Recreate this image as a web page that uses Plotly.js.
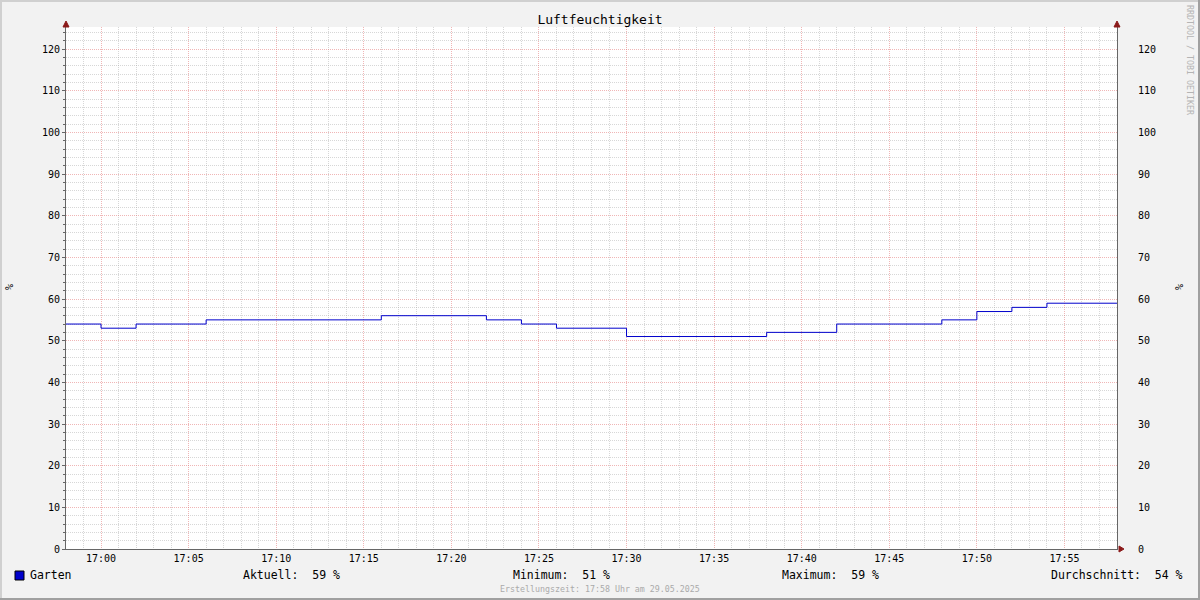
<!DOCTYPE html>
<html>
<head>
<meta charset="utf-8">
<script src="https://cdn.plot.ly/plotly-3.0.1.min.js"></script>
<style>html,body{margin:0;padding:0;background:#f2f2f2;}#chart{width:1200px;height:600px;}</style>
</head>
<body>
<div id="chart"></div>
<script>
// ---- data (change points of a step series) ----
const times = [
  '2025-05-29 16:58:00', '2025-05-29 17:00:00', '2025-05-29 17:02:00', '2025-05-29 17:06:00',
  '2025-05-29 17:16:00', '2025-05-29 17:22:00', '2025-05-29 17:24:00', '2025-05-29 17:26:00',
  '2025-05-29 17:30:00', '2025-05-29 17:38:00', '2025-05-29 17:42:00', '2025-05-29 17:48:00',
  '2025-05-29 17:50:00', '2025-05-29 17:52:00', '2025-05-29 17:54:00', '2025-05-29 17:58:00'
];
const humidity = [54, 53, 54, 55, 56, 55, 54, 53, 51, 52, 54, 55, 57, 58, 59, 59];
const seriesName = 'Garten';
const statLabels = ['Aktuell:', 'Minimum:', 'Maximum:', 'Durchschnitt:'];
const statValues = [59, 51, 59, 54];
const unit = '%';
const chartTitle = 'Luftfeuchtigkeit';
const footerText = 'Erstellungszeit: 17:58 Uhr am 29.05.2025';
const watermark = 'RRDTOOL / TOBI OETIKER';

// ---- geometry ----
const W = 1200, H = 600;
const L = 66, R = 1117, T = 27, B = 549;
const px = x => (x - L) / (R - L);
const py = y => (B - y) / (B - T);
const mono = 'DejaVu Sans Mono, monospace';
const NB = '\u00a0';

const yRange = [0, 125.3];
const xRange = ['2025-05-29 16:58:00', '2025-05-29 17:58:00'];

const lineColor = '#0000CC';
const axisColor = '#666666';
const arrowColor = '#8B1A1A';
const majorGrid = 'rgba(225,110,110,0.5)';
const minorGrid = 'rgba(160,160,160,0.42)';
const dotDash = '1px,1px';

const traces = [
  {x: times, y: humidity, type: 'scatter', mode: 'lines', line: {shape: 'hv', color: lineColor, width: 1},
   name: seriesName, showlegend: false, hoverinfo: 'skip'},
  {x: times, y: humidity, type: 'scatter', mode: 'lines', yaxis: 'y2', line: {width: 0}, opacity: 0,
   showlegend: false, hoverinfo: 'skip'}
];

const annotations = [];
function txt(text, x, y, opts) {
  annotations.push(Object.assign({text: text, xref: 'paper', yref: 'paper', x: px(x), y: py(y),
    showarrow: false, xanchor: 'left', yanchor: 'middle', borderpad: 0, borderwidth: 0,
    font: {family: mono, size: 11.5, color: '#000'}}, opts || {}));
}
// unit labels (rotated)
txt(unit, 9, 287, {xanchor: 'center', textangle: -90, font: {family: mono, size: 10, color: '#000'}});
txt(unit, 1179, 287, {xanchor: 'center', textangle: -90, font: {family: mono, size: 10, color: '#000'}});
// watermark
txt(watermark, 1190, 60, {xanchor: 'center', textangle: 90, font: {family: mono, size: 8.3, color: '#b4b4b4'}});
// legend line
txt(seriesName, 30, 575);
const statX = [243, 513, 782, 1051];
statLabels.forEach((lab, i) => txt(lab + NB + NB + statValues[i] + NB + unit, statX[i], 575));
// footer
txt(footerText, 600, 589, {xanchor: 'center', font: {family: mono, size: 8.3, color: '#aaaaaa'}});

const shapes = [
  // frame
  {type: 'rect', xref: 'paper', yref: 'paper', x0: px(0), x1: px(W), y0: py(0), y1: py(2), fillcolor: '#d0d0d0', line: {width: 0}},
  {type: 'rect', xref: 'paper', yref: 'paper', x0: px(0), x1: px(2), y0: py(0), y1: py(H), fillcolor: '#d0d0d0', line: {width: 0}},
  {type: 'rect', xref: 'paper', yref: 'paper', x0: px(0), x1: px(W), y0: py(H - 2), y1: py(H), fillcolor: '#a0a0a0', line: {width: 0}},
  {type: 'rect', xref: 'paper', yref: 'paper', x0: px(W - 2), x1: px(W), y0: py(0), y1: py(H), fillcolor: '#a0a0a0', line: {width: 0}},
  // legend swatch
  {type: 'rect', xref: 'paper', yref: 'paper', x0: px(15), x1: px(24), y0: py(571), y1: py(580), fillcolor: lineColor, line: {color: '#000', width: 1}},
];
function tri(p) {
  shapes.push({type: 'path', xref: 'paper', yref: 'paper',
    path: 'M' + p.map(q => px(q[0]) + ',' + py(q[1])).join(' L') + ' Z',
    fillcolor: arrowColor, line: {color: arrowColor, width: 1}});
}
tri([[L, 21], [L - 3, 27], [L + 3, 27]]);
tri([[R, 21], [R - 3, 27], [R + 3, 27]]);
tri([[R + 7, B], [R + 2, B - 3], [R + 2, B + 3]]);

const layout = {
  width: W, height: H,
  margin: {l: L, r: W - R, t: T, b: H - B, pad: 0},
  paper_bgcolor: '#f2f2f2', plot_bgcolor: '#ffffff',
  showlegend: false,
  title: {text: chartTitle, x: 0.5, xref: 'container', xanchor: 'center', y: 1 - 19 / H, yanchor: 'middle',
          font: {family: mono, size: 13, color: '#000'}},
  xaxis: {type: 'date', range: xRange, tickformat: '%H:%M', dtick: 300000, tick0: '2025-05-29 17:00:00',
          showgrid: true, gridcolor: majorGrid, griddash: dotDash, gridwidth: 1,
          minor: {dtick: 60000, showgrid: true, gridcolor: minorGrid, griddash: dotDash, gridwidth: 1},
          showline: true, linecolor: axisColor, linewidth: 1, zeroline: false, ticks: '',
          tickfont: {family: mono, size: 10, color: '#000'}, fixedrange: true},
  yaxis: {range: yRange, dtick: 10, tick0: 0, showgrid: true, gridcolor: majorGrid, griddash: dotDash, gridwidth: 1,
          minor: {dtick: 2, showgrid: true, gridcolor: minorGrid, griddash: dotDash, gridwidth: 1, ticks: 'outside', ticklen: 2, tickcolor: axisColor},
          showline: true, linecolor: axisColor, linewidth: 1, zeroline: false,
          ticks: 'outside', ticklen: 3, tickcolor: axisColor,
          tickfont: {family: mono, size: 10, color: '#000'}, fixedrange: true},
  yaxis2: {range: yRange, dtick: 10, tick0: 0, overlaying: 'y', side: 'right', showgrid: false,
           showline: true, linecolor: axisColor, linewidth: 1, zeroline: false, ticks: '',
           ticklabelstandoff: 18, tickfont: {family: mono, size: 10, color: '#000'}, fixedrange: true},
  annotations: annotations,
  shapes: shapes
};

Plotly.newPlot('chart', traces, layout, {displayModeBar: false, staticPlot: true});
</script>
</body>
</html>
